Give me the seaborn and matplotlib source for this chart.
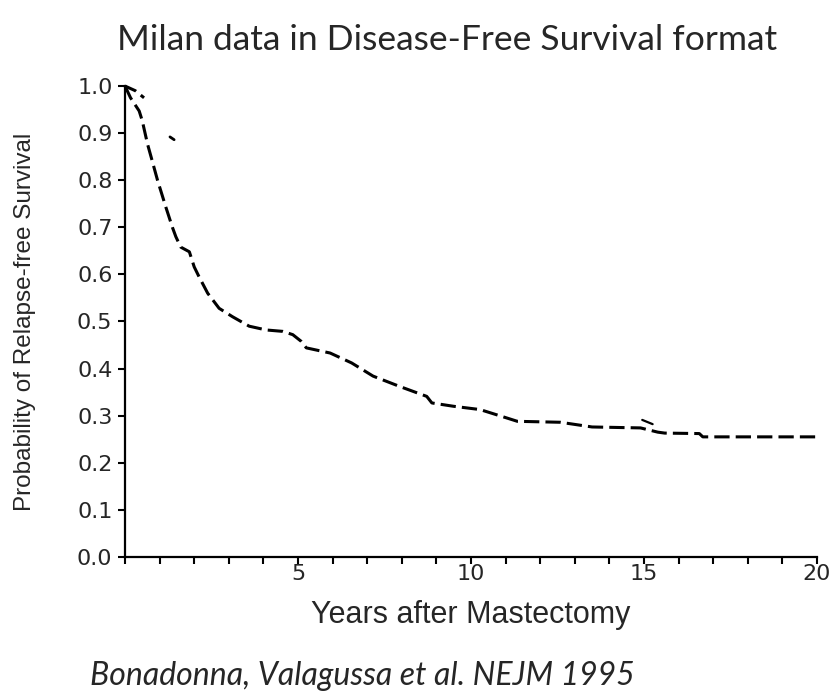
import numpy as np
import pandas as pd
import matplotlib
matplotlib.use('Agg')
import matplotlib.pyplot as plt
import seaborn as sns
from matplotlib.ticker import MultipleLocator

# relapse-free survival curve
years = [0.0, 0.16, 0.41, 0.5, 0.65, 0.79, 0.94, 1.18, 1.37, 1.47, 1.61, 1.86,
         2.0, 2.14, 2.39, 2.72, 3.11, 3.59, 4.08, 4.56, 4.85, 5.09, 5.24, 5.93,
         6.55, 7.17, 7.94, 8.72, 8.87, 9.49, 10.26, 11.04, 11.34, 12.58, 13.5,
         14.9, 15.4, 15.6, 16.6, 16.7, 20.0]
survival = [1.0, 0.975, 0.947, 0.926, 0.877, 0.84, 0.80, 0.743, 0.70, 0.68, 0.658, 0.648,
            0.616, 0.595, 0.56, 0.528, 0.51, 0.49, 0.482, 0.479, 0.472, 0.458, 0.444, 0.433,
            0.412, 0.384, 0.362, 0.341, 0.327, 0.32, 0.313, 0.295, 0.288, 0.286, 0.276,
            0.274, 0.265, 0.263, 0.262, 0.255, 0.255]

# short fragment of another curve visible in the scan
frag_years = [0.0, 0.3, 0.55]
frag_surv = [1.0, 0.99, 0.975]

y_ticks = [0.0, 0.1, 0.2, 0.3, 0.4, 0.5, 0.6, 0.7, 0.8, 0.9, 1.0]
x_ticks = [5, 10, 15, 20]

df = pd.DataFrame({'years': years, 'survival': survival})
frag = pd.DataFrame({'years': frag_years, 'survival': frag_surv})

sns.set_style('ticks')
plt.rcParams['font.family'] = ['Liberation Sans', 'DejaVu Sans']

fig = plt.figure(figsize=(8.35, 6.91), dpi=100)
ax = fig.add_axes([0.1497, 0.194, 0.8287, 0.6815])

sns.lineplot(x='years', y='survival', data=df, color='black', linewidth=2.2,
             ax=ax, clip_on=False)
ax.lines[-1].set_linestyle((0, (5, 2)))
sns.lineplot(x='years', y='survival', data=frag, color='black', linewidth=2.2,
             ax=ax, clip_on=False)
ax.lines[-1].set_linestyle((0, (4, 2)))
# stray marks in the scan
ax.plot([1.3, 1.42], [0.892, 0.886], color='black', linewidth=2, clip_on=False)
ax.plot([14.95, 15.25], [0.291, 0.282], color='black', linewidth=1.6, clip_on=False)

ax.set_xlim(0, 20)
ax.set_ylim(0, 1.0)
ax.set_yticks(y_ticks)
ax.set_yticklabels(['%.1f' % v for v in y_ticks], family='DejaVu Sans', fontsize=16)
ax.set_xticks(x_ticks)
ax.set_xticklabels([str(v) for v in x_ticks], family='DejaVu Sans', fontsize=16)
ax.xaxis.set_minor_locator(MultipleLocator(1))
ax.tick_params(which='both', direction='out', length=5, width=1.5, color='black')
ax.tick_params(axis='y', pad=4)
ax.tick_params(axis='x', which='major', pad=0)
sns.despine(ax=ax)
for s in ['left', 'bottom']:
    ax.spines[s].set_linewidth(1.6)
    ax.spines[s].set_color('black')

ax.set_xlabel('Years after Mastectomy', fontsize=22, va='center')
ax.xaxis.set_label_coords(0.5, -0.123)
ax.set_ylabel('Probability of Relapse-free Survival', fontsize=17.5, va='center')
ax.yaxis.set_label_coords(-0.1445, 0.5)

fig.text(0.536, 0.942, 'Milan data in Disease-Free Survival format',
         ha='center', va='center', fontsize=25.5, family='Lato')
fig.text(0.108, 0.009, 'Bonadonna, Valagussa et al. NEJM 1995',
         ha='left', va='baseline', fontsize=23, family='Lato', style='italic')

plt.savefig('out.png', dpi=100)
plt.close()
